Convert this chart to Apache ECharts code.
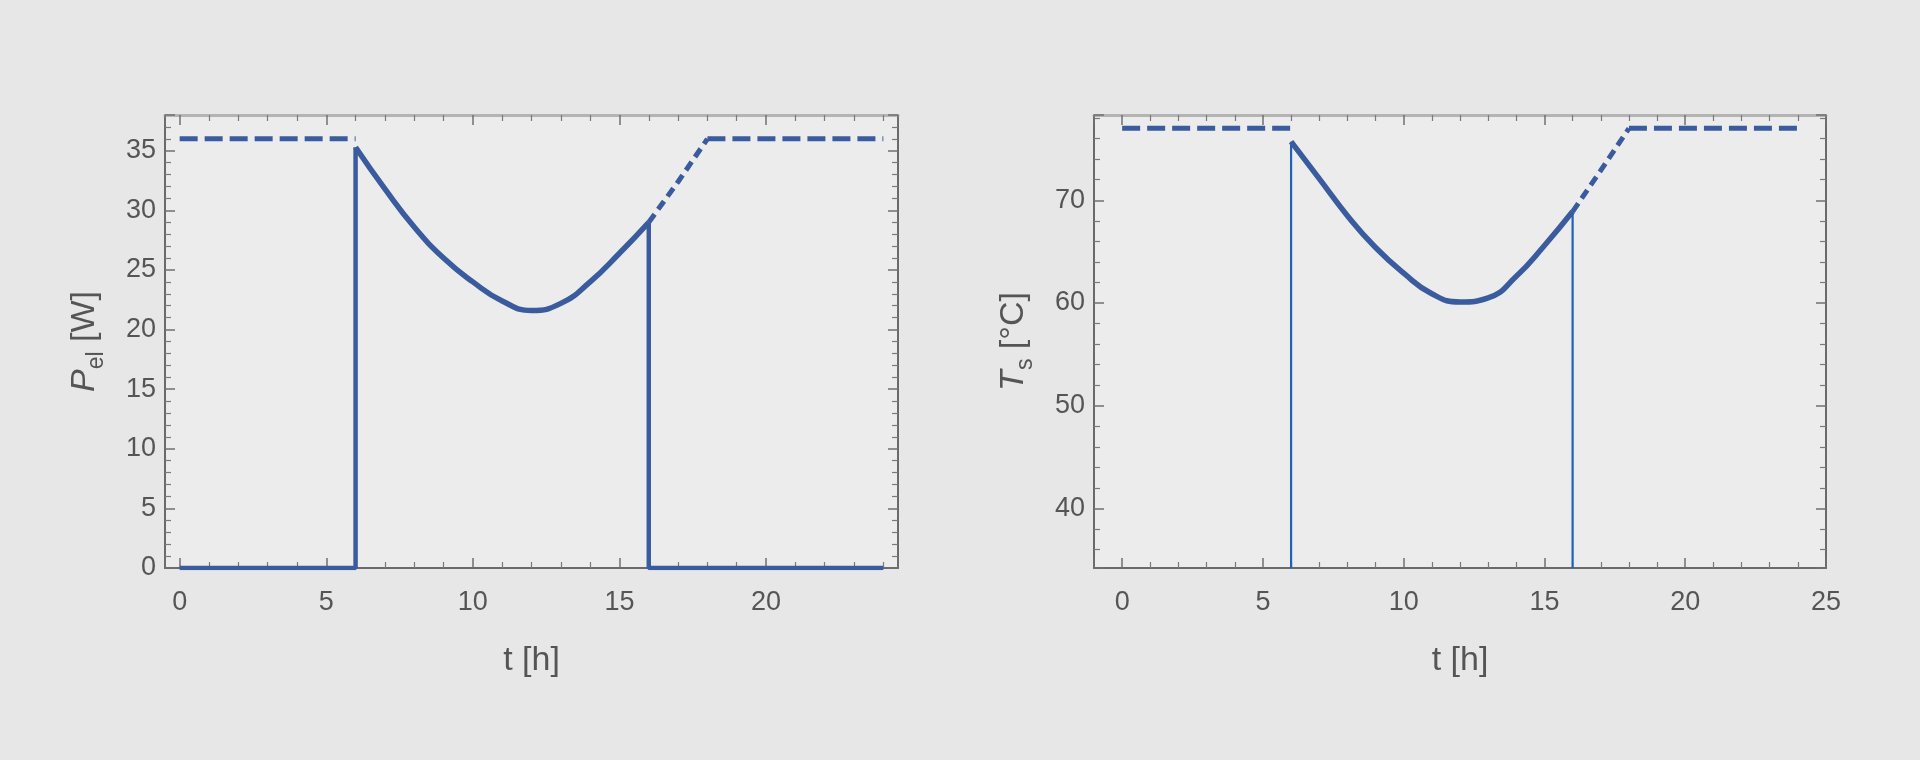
<!DOCTYPE html>
<html><head><meta charset="utf-8">
<script src="https://cdn.jsdelivr.net/npm/echarts@6/dist/echarts.min.js"></script>
<style>html,body{margin:0;padding:0;background:#e7e7e7;} #c{width:1920px;height:760px;}</style>
</head><body><div id="c"></div>
<script>
// ---- data ----
const tCurve   = [6, 7, 8, 9, 10, 11, 12, 13, 14, 15, 16];
const pelCurve = [35.3, 31.8, 28.6, 26.0, 24.0, 22.4, 21.6, 22.2, 24.0, 26.4, 29.0];
const tsCurve  = [75.7, 72.1, 68.5, 65.4, 62.9, 60.9, 60.1, 60.5, 62.6, 65.6, 68.9];
const tRamp    = [16, 17, 18];
const pelRamp  = [29.0, 32.4, 36.0];
const tsRamp   = [68.9, 72.9, 77.0];
const tStart = 0, tOn = 6, tOff = 16, tEnd = 24;
const pelMax = 36, tsMax = 77, pelOff = 0;
const tRangeLeft = [-0.5, 24.5], tRangeRight = [-1, 25];
const pelRange = [0, 38], tsRange = [34.2, 78.3];
const xTickLabelsLeft  = [0, 5, 10, 15, 20];
const xTickLabelsRight = [0, 5, 10, 15, 20, 25];
const pelTickLabels = [0, 5, 10, 15, 20, 25, 30, 35];
const tsTickLabels  = [40, 50, 60, 70];

// ---- styles ----
const BLUE = '#3a5b9e', BLUE2 = '#1f62b6';
const FONT = 'Liberation Sans, Arial, sans-serif';
const TXT = '#555555';
const LBL = {color: TXT, fontSize: 27, fontFamily: FONT};
const TTL = {color: TXT, fontSize: 34, fontFamily: FONT};
const zip = (xs, ys) => xs.map((x, i) => [x, ys[i]]);
const fmt = list => v => list.includes(v) ? String(v) : '';

function mkX(gi, range, labels, pos, withName) {
  const main = pos === 'bottom';
  return {
    type: 'value', gridIndex: gi, position: pos, min: range[0], max: range[1], splitNumber: 5,
    axisLine: {show: true, onZero: false, lineStyle: {color: main ? '#6a6a6a' : '#b4b4b4', width: main ? 2 : 3}},
    axisTick: {show: true, inside: true, length: 10, lineStyle: {color: '#707070', width: 1.5}},
    minorTick: {show: true, splitNumber: 5, length: 6, lineStyle: {color: '#7a7a7a', width: 1.2}},
    axisLabel: {show: main, formatter: fmt(labels), margin: 21, ...LBL},
    splitLine: {show: false},
    name: withName ? 't [h]' : '', nameLocation: 'middle', nameGap: 76,
    nameTextStyle: {...TTL}
  };
}
function mkY(gi, range, labels, pos, name, rich, splitNumber) {
  const main = pos === 'left';
  return {
    type: 'value', gridIndex: gi, position: pos, min: range[0], max: range[1], splitNumber: splitNumber,
    axisLine: {show: true, onZero: false, lineStyle: {color: '#6a6a6a', width: 2}},
    axisTick: {show: true, inside: true, length: 10, lineStyle: {color: '#707070', width: 1.5}},
    minorTick: {show: true, splitNumber: 5, length: 6, lineStyle: {color: '#7a7a7a', width: 1.2}},
    axisLabel: {show: main, formatter: fmt(labels), margin: 9, ...LBL},
    splitLine: {show: false},
    name: main ? name : '', nameLocation: 'middle', nameGap: 59, nameRotate: 90,
    nameTextStyle: {...TTL, rich: rich}
  };
}
const richBase = {
  i:   {fontStyle: 'italic', fontSize: 34, color: TXT, fontFamily: FONT, verticalAlign: 'top', lineHeight: 38},
  n:   {fontSize: 34, color: TXT, fontFamily: FONT, verticalAlign: 'top', lineHeight: 38},
  sub: {fontSize: 23, color: TXT, fontFamily: FONT, verticalAlign: 'top', lineHeight: 23, padding: [17, 0, 0, 0]}
};

function line(xi, yi, data, opts) {
  return Object.assign({
    type: 'line', xAxisIndex: xi, yAxisIndex: yi, data: data, showSymbol: false, symbol: 'none',
    animation: false, clip: true, silent: true,
    lineStyle: {color: BLUE, width: 5.5, cap: 'butt', join: 'round'}
  }, opts || {});
}
const dash  = w => ({color: BLUE, width: w, type: [18, 7], cap: 'butt'});
const dash2 = w => ({color: BLUE, width: w, type: [10, 6], cap: 'butt'});

const option = {
  backgroundColor: '#e7e7e7',
  animation: false,
  grid: [
    {left: 165, top: 115, width: 733, height: 453, show: true, backgroundColor: '#ececec', borderWidth: 0},
    {left: 1094, top: 115, width: 732, height: 453, show: true, backgroundColor: '#ececec', borderWidth: 0}
  ],
  xAxis: [
    mkX(0, tRangeLeft, xTickLabelsLeft, 'bottom', true),
    mkX(0, tRangeLeft, xTickLabelsLeft, 'top', false),
    mkX(1, tRangeRight, xTickLabelsRight, 'bottom', true),
    mkX(1, tRangeRight, xTickLabelsRight, 'top', false)
  ],
  yAxis: [
    mkY(0, pelRange, pelTickLabels, 'left', '{i|P}{sub|el}{n| [W]}', richBase, 8),
    mkY(0, pelRange, pelTickLabels, 'right', '', richBase, 8),
    mkY(1, tsRange, tsTickLabels, 'left', '{i|T}{sub|s}{n| [°C]}', richBase, 5),
    mkY(1, tsRange, tsTickLabels, 'right', '', richBase, 5)
  ],
  series: [
    // left chart
    line(0, 0, [[tStart, pelMax], [tOn, pelMax]], {lineStyle: dash(5)}),
    line(0, 0, zip(tRamp, pelRamp), {lineStyle: dash2(5)}),
    line(0, 0, [[tRamp[tRamp.length - 1], pelMax], [tEnd, pelMax]], {lineStyle: dash(5)}),
    line(0, 0, [[tStart, pelOff], [tOn, pelOff], [tOn, pelCurve[0]]], {lineStyle: {color: BLUE, width: 4.5, cap: 'butt'}}),
    line(0, 0, [[tOff, pelCurve[pelCurve.length - 1]], [tOff, pelOff], [tEnd, pelOff]], {lineStyle: {color: BLUE, width: 4.5, cap: 'butt'}}),
    line(0, 0, zip(tCurve, pelCurve), {smooth: 0.5}),
    // right chart
    line(2, 2, [[tStart, tsMax], [tOn, tsMax]], {lineStyle: dash(5)}),
    line(2, 2, zip(tRamp, tsRamp), {lineStyle: dash2(5)}),
    line(2, 2, [[tRamp[tRamp.length - 1], tsMax], [tEnd, tsMax]], {lineStyle: dash(5)}),
    line(2, 2, [[tOn, tsRange[0]], [tOn, tsCurve[0]]], {lineStyle: {color: BLUE2, width: 2.2}}),
    line(2, 2, [[tOff, tsRange[0]], [tOff, tsCurve[tsCurve.length - 1]]], {lineStyle: {color: BLUE2, width: 2.2}}),
    line(2, 2, zip(tCurve, tsCurve), {smooth: 0.5})
  ]
};
const chart = echarts.init(document.getElementById('c'), null, {renderer: 'canvas'});
chart.setOption(option);
</script>
</body></html>
